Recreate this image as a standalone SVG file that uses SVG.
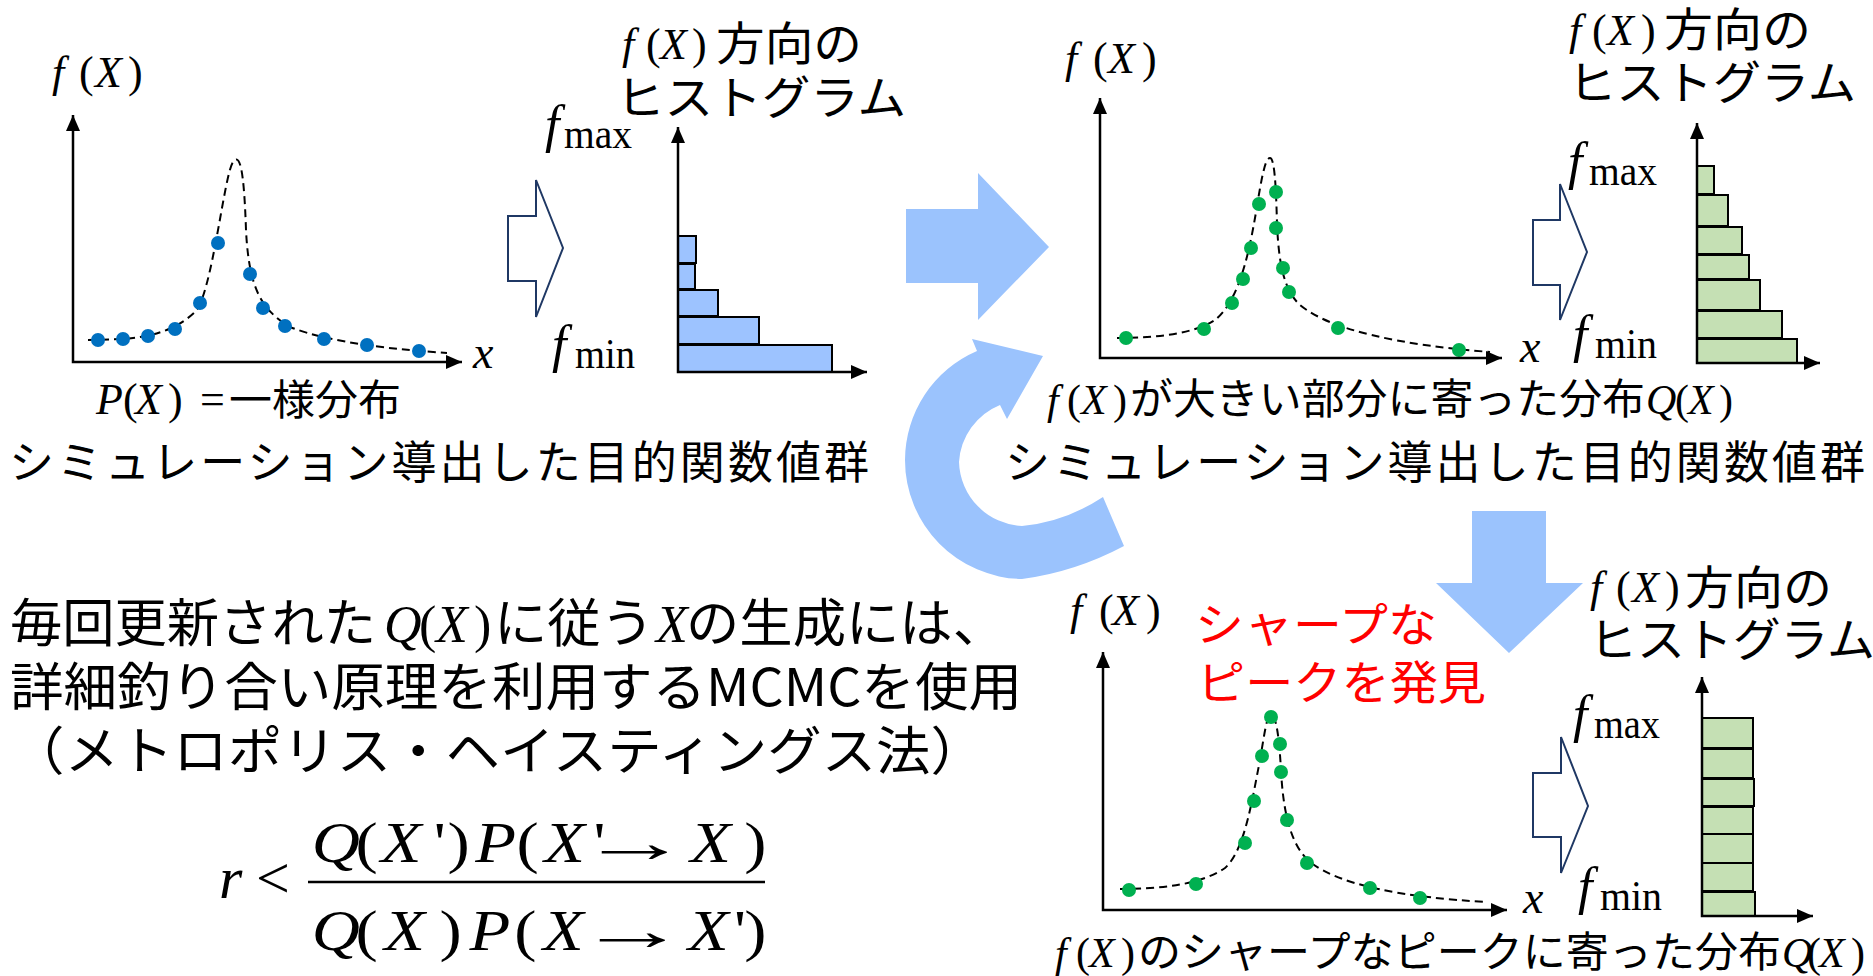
<svg xmlns="http://www.w3.org/2000/svg" width="1873" height="976" viewBox="0 0 1873 976">
<style>
.cjk{font-family:"Noto Sans CJK JP","Noto Sans",sans-serif;fill:#000}
.m{font-family:"Liberation Serif","DejaVu Serif",serif;font-style:italic;fill:#000}
.up{font-style:normal}
.ax{fill:none;stroke:#000;stroke-width:2.5;marker-start:url(#ah);marker-end:url(#ah)}
.dash{fill:none;stroke:#000;stroke-width:2;stroke-dasharray:8 5}
.bd{fill:#0070C0}
.gd{fill:#00B050}
.bb{fill:#9DC3FF;stroke:#000;stroke-width:2}
.gb{fill:#C5E0B4;stroke:#000;stroke-width:2}
.ha{fill:#fff;stroke:#1F3864;stroke-width:2}
.ba{fill:#9BC3FD}
.red{fill:#FF0000}
</style>
<defs>
<marker id="ah" viewBox="0 0 16 14" refX="16" refY="7" markerWidth="16" markerHeight="14" markerUnits="userSpaceOnUse" orient="auto-start-reverse"><path d="M0,0 L16,7 L0,14 z" fill="#000"/></marker>
</defs>
<rect width="1873" height="976" fill="#fff"/>

<g id="panel-uniform">
<text class="m" font-size="44" y="87"><tspan x="52">f</tspan><tspan x="79" class="up">(</tspan><tspan x="95">X</tspan><tspan x="128" class="up">)</tspan></text>
<path class="dash" d="M88,340 L123,339 C150,337 175,331 195,312 C212,295 224,175 233,162 C240,152 244,170 246,230 C249,290 262,310 290,327 C330,343 400,350 447,353"/>
<g class="bd">
<circle cx="98" cy="340" r="7"/><circle cx="123" cy="339" r="7"/><circle cx="148" cy="336" r="7"/><circle cx="175" cy="329" r="7"/><circle cx="200" cy="303" r="7"/><circle cx="218" cy="243" r="7"/><circle cx="250" cy="274" r="7"/><circle cx="263" cy="308" r="7"/><circle cx="285" cy="326" r="7"/><circle cx="324" cy="339" r="7"/><circle cx="367" cy="345" r="7"/><circle cx="419" cy="351" r="7"/>
</g>
<path class="ax" d="M73,115 L73,362 L462,362"/>
<text class="m" font-size="46" x="473" y="368">x</text>
<text class="m" font-size="44" y="414"><tspan x="96">P</tspan><tspan x="123" class="up">(</tspan><tspan x="135">X</tspan><tspan x="168" class="up">)</tspan><tspan x="200" class="up">=</tspan></text>
<text class="cjk" font-size="42" x="229" y="415" textLength="172" lengthAdjust="spacingAndGlyphs">一様分布</text>
<text class="cjk" font-size="45" x="9" y="479" textLength="860" lengthAdjust="spacing">シミュレーション導出した目的関数値群</text>
</g>

<g id="hist-uniform">
<text class="m" font-size="44" y="59"><tspan x="622">f</tspan><tspan x="646" class="up">(</tspan><tspan x="660">X</tspan><tspan x="692" class="up">)</tspan></text>
<text class="cjk" font-size="46" x="716" y="60" textLength="146" lengthAdjust="spacingAndGlyphs">方向の</text>
<text class="cjk" font-size="46" x="616" y="114" textLength="290" lengthAdjust="spacingAndGlyphs">ヒストグラム</text>
<text class="m" font-size="52" x="545" y="142">f</text>
<text class="m up" font-size="42" x="564" y="148" textLength="68" lengthAdjust="spacingAndGlyphs">max</text>
<text class="m" font-size="52" x="552" y="362">f</text>
<text class="m up" font-size="42" x="575" y="368" textLength="60" lengthAdjust="spacingAndGlyphs">min</text>
<rect class="bb" x="678" y="236" width="18" height="27"/>
<rect class="bb" x="678" y="264" width="17" height="25"/>
<rect class="bb" x="678" y="290" width="40" height="26"/>
<rect class="bb" x="678" y="317" width="81" height="27"/>
<rect class="bb" x="678" y="345" width="154" height="27"/>
<path class="ax" d="M678,127 L678,372 L867,372"/>
</g>

<g id="panel-q1">
<text class="m" font-size="44" y="73"><tspan x="1065">f</tspan><tspan x="1093" class="up">(</tspan><tspan x="1108">X</tspan><tspan x="1142" class="up">)</tspan></text>
<path class="dash" d="M1117,338 C1160,338 1195,333 1215,320 C1240,300 1250,250 1258,200 C1263,170 1266,158 1270,158 C1274,158 1276,180 1277,225 C1279,265 1284,290 1300,305 C1330,330 1400,345 1490,352"/>
<g class="gd">
<circle cx="1126" cy="338" r="7"/><circle cx="1204" cy="329" r="7"/><circle cx="1232" cy="303" r="7"/><circle cx="1243" cy="279" r="7"/><circle cx="1251" cy="248" r="7"/><circle cx="1259" cy="204" r="7"/><circle cx="1276" cy="192" r="7"/><circle cx="1276" cy="228" r="7"/><circle cx="1283" cy="268" r="7"/><circle cx="1289" cy="292" r="7"/><circle cx="1338" cy="328" r="7"/><circle cx="1459" cy="350" r="7"/>
</g>
<path class="ax" d="M1100,98 L1100,358 L1502,358"/>
<text class="m" font-size="46" x="1520" y="362">x</text>
<text class="m" font-size="42" y="414"><tspan x="1047">f</tspan><tspan x="1067" class="up">(</tspan><tspan x="1081">X</tspan><tspan x="1113" class="up">)</tspan></text>
<text class="cjk" font-size="42" x="1130" y="414" textLength="515" lengthAdjust="spacingAndGlyphs">が大きい部分に寄った分布</text>
<text class="m" font-size="42" y="414"><tspan x="1646">Q</tspan><tspan x="1675" class="up">(</tspan><tspan x="1688">X</tspan><tspan x="1719" class="up">)</tspan></text>
<text class="cjk" font-size="45" x="1005" y="479" textLength="860" lengthAdjust="spacing">シミュレーション導出した目的関数値群</text>
</g>

<g id="hist-q1">
<text class="m" font-size="44" y="45"><tspan x="1569">f</tspan><tspan x="1592" class="up">(</tspan><tspan x="1607">X</tspan><tspan x="1641" class="up">)</tspan></text>
<text class="cjk" font-size="46" x="1664" y="46" textLength="147" lengthAdjust="spacingAndGlyphs">方向の</text>
<text class="cjk" font-size="46" x="1568" y="99" textLength="288" lengthAdjust="spacingAndGlyphs">ヒストグラム</text>
<text class="m" font-size="52" x="1568" y="179">f</text>
<text class="m up" font-size="42" x="1589" y="185" textLength="68" lengthAdjust="spacingAndGlyphs">max</text>
<text class="m" font-size="52" x="1573" y="352">f</text>
<text class="m up" font-size="42" x="1595" y="358" textLength="62" lengthAdjust="spacingAndGlyphs">min</text>
<rect class="gb" x="1697" y="166" width="17" height="28"/>
<rect class="gb" x="1697" y="195" width="31" height="31"/>
<rect class="gb" x="1697" y="227" width="45" height="27"/>
<rect class="gb" x="1697" y="255" width="52" height="24"/>
<rect class="gb" x="1697" y="280" width="63" height="30"/>
<rect class="gb" x="1697" y="311" width="85" height="27"/>
<rect class="gb" x="1697" y="339" width="100" height="24"/>
<path class="ax" d="M1697,123 L1697,363 L1820,363"/>
</g>

<g id="panel-q2">
<text class="m" font-size="44" y="625"><tspan x="1070">f</tspan><tspan x="1099" class="up">(</tspan><tspan x="1112">X</tspan><tspan x="1146" class="up">)</tspan></text>
<text class="cjk red" font-size="46" x="1195" y="641" textLength="242" lengthAdjust="spacingAndGlyphs">シャープな</text>
<text class="cjk red" font-size="46" x="1197" y="699" textLength="289" lengthAdjust="spacingAndGlyphs">ピークを発見</text>
<path class="dash" d="M1120,889 C1160,889 1200,885 1225,868 C1245,850 1252,800 1260,760 C1265,730 1267,715 1271,715 C1276,715 1279,735 1281,770 C1283,810 1290,845 1310,862 C1340,885 1400,897 1487,902"/>
<g class="gd">
<circle cx="1129" cy="890" r="7"/><circle cx="1196" cy="884" r="7"/><circle cx="1245" cy="843" r="7"/><circle cx="1254" cy="801" r="7"/><circle cx="1262" cy="756" r="7"/><circle cx="1271" cy="717" r="7"/><circle cx="1280" cy="744" r="7"/><circle cx="1281" cy="772" r="7"/><circle cx="1287" cy="820" r="7"/><circle cx="1307" cy="863" r="7"/><circle cx="1370" cy="888" r="7"/><circle cx="1420" cy="898" r="7"/>
</g>
<path class="ax" d="M1103,652 L1103,910 L1507,910"/>
<text class="m" font-size="46" x="1523" y="913">x</text>
<text class="m" font-size="42" y="967"><tspan x="1055">f</tspan><tspan x="1076" class="up">(</tspan><tspan x="1089">X</tspan><tspan x="1121" class="up">)</tspan></text>
<text class="cjk" font-size="42" x="1138" y="967" textLength="643" lengthAdjust="spacingAndGlyphs">のシャープなピークに寄った分布</text>
<text class="m" font-size="42" y="967"><tspan x="1782">Q</tspan><tspan x="1807" class="up">(</tspan><tspan x="1819">X</tspan><tspan x="1851" class="up">)</tspan></text>
</g>

<g id="hist-q2">
<text class="m" font-size="44" y="602"><tspan x="1590">f</tspan><tspan x="1616" class="up">(</tspan><tspan x="1632">X</tspan><tspan x="1665" class="up">)</tspan></text>
<text class="cjk" font-size="46" x="1685" y="604" textLength="147" lengthAdjust="spacingAndGlyphs">方向の</text>
<text class="cjk" font-size="46" x="1589" y="656" textLength="286" lengthAdjust="spacingAndGlyphs">ヒストグラム</text>
<text class="m" font-size="52" x="1573" y="732">f</text>
<text class="m up" font-size="42" x="1594" y="738" textLength="66" lengthAdjust="spacingAndGlyphs">max</text>
<text class="m" font-size="52" x="1578" y="904">f</text>
<text class="m up" font-size="42" x="1600" y="910" textLength="62" lengthAdjust="spacingAndGlyphs">min</text>
<rect class="gb" x="1702" y="718" width="51" height="30"/>
<rect class="gb" x="1702" y="749" width="51" height="29"/>
<rect class="gb" x="1702" y="779" width="52" height="27"/>
<rect class="gb" x="1702" y="807" width="51" height="27"/>
<rect class="gb" x="1702" y="834" width="51" height="29"/>
<rect class="gb" x="1702" y="863" width="51" height="28"/>
<rect class="gb" x="1702" y="892" width="53" height="24"/>
<path class="ax" d="M1702,677 L1702,916 L1813,916"/>
</g>

<g id="mcmc-note">
<text class="cjk" font-size="52" x="10" y="642" textLength="366" lengthAdjust="spacingAndGlyphs">毎回更新された</text>
<text class="m" font-size="52" y="642"><tspan x="384">Q</tspan><tspan x="419" class="up">(</tspan><tspan x="436">X</tspan><tspan x="474" class="up">)</tspan></text>
<text class="cjk" font-size="52" x="494" y="642" textLength="160" lengthAdjust="spacingAndGlyphs">に従う</text>
<text class="m" font-size="52" x="656" y="642">X</text>
<text class="cjk" font-size="52" x="686" y="642" textLength="320" lengthAdjust="spacingAndGlyphs">の生成には、</text>
<text class="cjk" font-size="52" x="10" y="706" textLength="1012" lengthAdjust="spacingAndGlyphs">詳細釣り合い原理を利用するMCMCを使用</text>
<text class="cjk" font-size="52" x="10" y="770" textLength="975" lengthAdjust="spacingAndGlyphs">（メトロポリス・ヘイスティングス法）</text>
</g>

<g id="formula">
<text class="m" font-size="60" x="219" y="898">r</text>
<text class="m up" font-size="60" x="256" y="898">&lt;</text>
<g transform="translate(313 0) scale(1.15 1)">
<text class="m" font-size="58" y="862"><tspan x="-1">Q</tspan><tspan x="37" class="up">(</tspan><tspan x="59">X</tspan><tspan x="105" class="up">'</tspan><tspan x="117" class="up">)</tspan><tspan x="141">P</tspan><tspan x="177" class="up">(</tspan><tspan x="201">X</tspan><tspan x="244" class="up">'</tspan><tspan x="328">X</tspan><tspan x="375" class="up">)</tspan></text>
<text class="m" font-size="58" y="950"><tspan x="-1">Q</tspan><tspan x="37" class="up">(</tspan><tspan x="62">X</tspan><tspan x="110" class="up">)</tspan><tspan x="136">P</tspan><tspan x="175" class="up">(</tspan><tspan x="200">X</tspan><tspan x="326">X</tspan><tspan x="366" class="up">'</tspan><tspan x="375" class="up">)</tspan></text>
</g>
<text class="m up" font-size="58" x="-2" y="862" transform="translate(583 0) scale(1.9 1)">→</text>
<text class="m up" font-size="58" x="-2" y="950" transform="translate(581 0) scale(1.9 1)">→</text>
<line x1="308" y1="882" x2="765" y2="882" stroke="#000" stroke-width="2.5"/>
</g>

<g id="connectors">
<polygon class="ha" points="508,216 536,216 536,180 563,248 536,317 536,281 508,281"/>
<polygon class="ha" points="1533,220 1560,220 1560,184 1587,252 1560,320 1560,285 1533,285"/>
<polygon class="ha" points="1533,773 1561,773 1561,737 1588,806 1561,873 1561,837 1533,837"/>
<polygon class="ba" points="906,209 978,209 978,173 1049,247 978,320 978,283 906,283"/>
<polygon class="ba" points="1472,511 1546,511 1546,583 1583,583 1509,653 1436,583 1472,583"/>
<path class="ba" d="M1124,546 Q1075,572 1022,579 A119,119 0 0 1 905,460 A119,119 0 0 1 977,351 L972,339 L1043,356 L1007,419 L1000,405 A66,66 0 0 0 959,462 A66,66 0 0 0 1022,526 Q1065,522 1103,497 Z"/>
</g>
</svg>
